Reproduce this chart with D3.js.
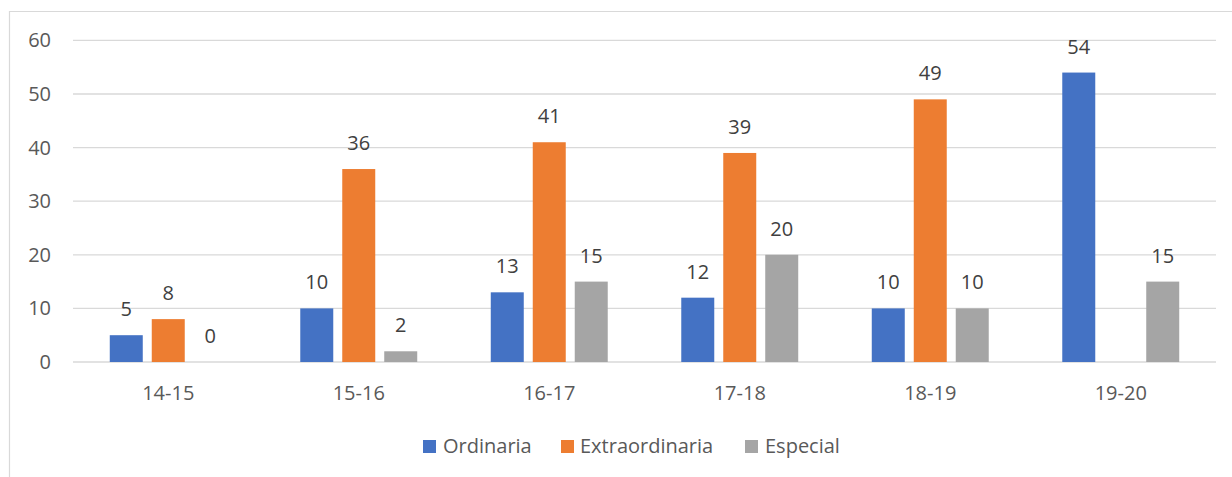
<!DOCTYPE html>
<html lang="en">
<head>
    <meta charset="UTF-8">
    <title>Sesiones por curso</title>
    <script src="https://d3js.org/d3.v7.min.js"></script>
    <style>
        body { margin: 0; background: #fff; }
        text { font-family: "Open Sans", "Noto Sans", sans-serif; }
    </style>
</head>
<body>
<svg></svg>
<script>
    const categories = ["14-15", "15-16", "16-17", "17-18", "18-19", "19-20"];
    const seriesNames = ["Ordinaria", "Extraordinaria", "Especial"];
    const ordinaria = [5, 10, 13, 12, 10, 54];
    const extraordinaria = [8, 36, 41, 39, 49, null];
    const especial = [0, 2, 15, 20, 10, 15];
    const yTicks = [0, 10, 20, 30, 40, 50, 60];
    const colors = ["#4472C4", "#ED7D31", "#A5A5A5"];

    const width = 1232, height = 477;
    const svg = d3.select("svg").attr("width", width).attr("height", height);

    // chart frame (only top & left edges fall inside the picture)
    svg.append("path")
        .attr("d", `M9.5,${height} V11.5 H${width}`)
        .attr("fill", "none")
        .attr("stroke", "#d9d9d9")
        .attr("stroke-width", 1.2);

    const plotLeft = 73, plotRight = 1216;
    const y = d3.scaleLinear().domain([0, 60]).range([362, 40.4]);

    const x0 = d3.scaleBand()
        .domain(categories)
        .range([plotLeft, plotRight])
        .paddingInner(0.386)
        .paddingOuter(0.193);

    const x1 = d3.scaleBand()
        .domain(seriesNames)
        .range([0, x0.bandwidth()])
        .paddingInner(9 / 42);

    // gridlines
    svg.append("g")
        .selectAll("line")
        .data(yTicks)
        .join("line")
        .attr("x1", plotLeft)
        .attr("x2", plotRight)
        .attr("y1", d => y(d))
        .attr("y2", d => y(d))
        .attr("stroke", "#d9d9d9")
        .attr("stroke-width", 1.3);

    // y labels
    svg.append("g")
        .selectAll("text")
        .data(yTicks)
        .join("text")
        .attr("x", 51)
        .attr("y", d => y(d))
        .attr("dy", "0.35em")
        .attr("text-anchor", "end")
        .attr("font-size", 20)
        .attr("fill", "#595959")
        .text(d => d);

    // x labels
    svg.append("g")
        .selectAll("text")
        .data(categories)
        .join("text")
        .attr("x", d => x0(d) + x0.bandwidth() / 2)
        .attr("y", 393)
        .attr("dy", "0.35em")
        .attr("text-anchor", "middle")
        .attr("font-size", 20)
        .attr("fill", "#595959")
        .text(d => d);

    const table = categories.map((c, i) => ({
        cat: c,
        values: [
            { s: "Ordinaria", v: ordinaria[i], c: colors[0] },
            { s: "Extraordinaria", v: extraordinaria[i], c: colors[1] },
            { s: "Especial", v: especial[i], c: colors[2] }
        ]
    }));

    const groups = svg.append("g")
        .selectAll("g")
        .data(table)
        .join("g")
        .attr("transform", d => `translate(${x0(d.cat)},0)`);

    groups.selectAll("rect")
        .data(d => d.values.filter(v => v.v !== null))
        .join("rect")
        .attr("x", d => x1(d.s))
        .attr("y", d => y(d.v))
        .attr("width", x1.bandwidth())
        .attr("height", d => y(0) - y(d.v))
        .attr("fill", d => d.c);

    groups.selectAll("text")
        .data(d => d.values.filter(v => v.v !== null))
        .join("text")
        .attr("x", d => x1(d.s) + x1.bandwidth() / 2)
        .attr("y", d => y(d.v) - 26)
        .attr("dy", "0.35em")
        .attr("text-anchor", "middle")
        .attr("font-size", 20)
        .attr("fill", "#404040")
        .text(d => d.v);

    // legend
    const legendItems = [
        { name: "Ordinaria", sx: 423, tx: 443 },
        { name: "Extraordinaria", sx: 561, tx: 580 },
        { name: "Especial", sx: 745, tx: 765 }
    ];
    const legend = svg.append("g")
        .selectAll("g")
        .data(legendItems)
        .join("g");
    legend.append("rect")
        .attr("x", d => d.sx)
        .attr("y", 440)
        .attr("width", 13)
        .attr("height", 13)
        .attr("fill", (d, i) => colors[i]);
    legend.append("text")
        .attr("x", d => d.tx)
        .attr("y", 446)
        .attr("dy", "0.35em")
        .attr("font-size", 20)
        .attr("fill", "#595959")
        .text(d => d.name);
</script>
</body>
</html>
